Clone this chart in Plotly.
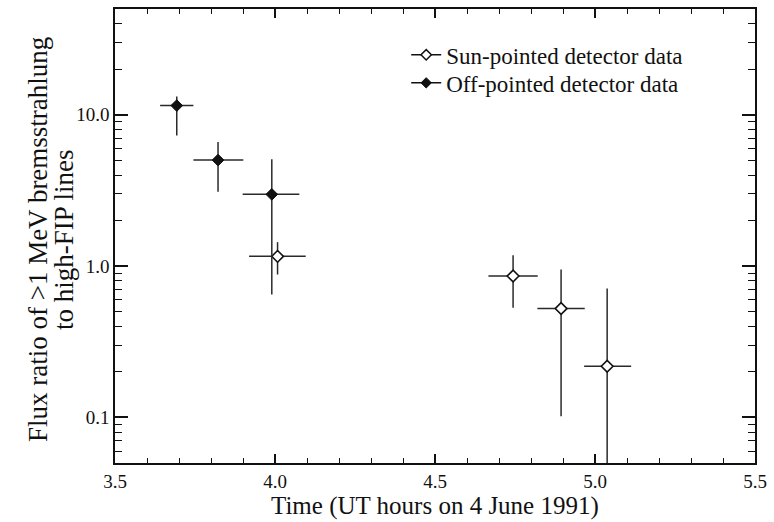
import plotly.graph_objects as go

# Off-pointed detector data (filled diamonds)
off_t = [3.693, 3.822, 3.99]
off_t_lo = [3.641, 3.745, 3.899]
off_t_hi = [3.745, 3.901, 4.076]
off_r = [11.5, 5.02, 2.98]
off_r_lo = [7.3, 3.1, 0.65]
off_r_hi = [13.2, 6.6, 5.08]

# Sun-pointed detector data (open diamonds)
sun_t = [4.008, 4.744, 4.894, 5.038]
sun_t_lo = [3.919, 4.667, 4.820, 4.966]
sun_t_hi = [4.096, 4.821, 4.968, 5.113]
sun_r = [1.16, 0.86, 0.524, 0.218]
sun_r_lo = [0.88, 0.53, 0.102, 0.02]
sun_r_hi = [1.44, 1.18, 0.95, 0.71]

y_tickvals = [0.1, 1.0, 10.0]
y_ticktext = ["0.1", "1.0", "10.0"]
x_range = [3.5, 5.5]
x_title = "Time (UT hours on 4 June 1991)"
y_title_lines = ["Flux ratio of >1 MeV bremsstrahlung", "to high-FIP lines"]

FONT = "Liberation Serif, Times New Roman, serif"
INK = "#111111"


def err(vals, lo, hi):
    plus = [h - v for v, h in zip(vals, hi)]
    minus = [v - l for v, l in zip(vals, lo)]
    return plus, minus


fig = go.Figure()

sx_p, sx_m = err(sun_t, sun_t_lo, sun_t_hi)
sy_p, sy_m = err(sun_r, sun_r_lo, sun_r_hi)
ox_p, ox_m = err(off_t, off_t_lo, off_t_hi)
oy_p, oy_m = err(off_r, off_r_lo, off_r_hi)

errstyle = dict(type="data", symmetric=False, width=0, thickness=1.5, color="#2a2a2a")

fig.add_trace(go.Scatter(
    x=sun_t, y=sun_r, mode="markers", showlegend=False,
    marker=dict(symbol="diamond", size=9, color="white", line=dict(color=INK, width=1.6)),
    error_x=dict(array=sx_p, arrayminus=sx_m, **errstyle),
    error_y=dict(array=sy_p, arrayminus=sy_m, **errstyle),
))
fig.add_trace(go.Scatter(
    x=off_t, y=off_r, mode="markers", showlegend=False,
    marker=dict(symbol="diamond", size=9, color=INK, line=dict(color=INK, width=1)),
    error_x=dict(array=ox_p, arrayminus=ox_m, **errstyle),
    error_y=dict(array=oy_p, arrayminus=oy_m, **errstyle),
))
# legend entries (one legend box each for exact placement)
fig.add_trace(go.Scatter(
    x=[None], y=[None], mode="lines+markers", name="Sun-pointed detector data", legend="legend",
    line=dict(color=INK, width=1.5),
    marker=dict(symbol="diamond", size=8, color="white", line=dict(color=INK, width=1.5)),
))
fig.add_trace(go.Scatter(
    x=[None], y=[None], mode="lines+markers", name="Off-pointed detector data", legend="legend2",
    line=dict(color=INK, width=1.5),
    marker=dict(symbol="diamond", size=8, color=INK, line=dict(color=INK, width=1)),
))

axis_common = dict(
    showline=True, linecolor=INK, linewidth=1.5, mirror="allticks", automargin=False,
    ticks="inside", tickcolor=INK, tickwidth=1.5, showgrid=False, zeroline=False,
    tickfont=dict(family=FONT, size=19, color=INK),
)

fig.update_xaxes(
    range=x_range, dtick=0.5, tick0=3.5, tickformat=".1f", ticklen=9,
    minor=dict(dtick=0.1, ticks="inside", ticklen=5, tickcolor=INK, tickwidth=1.2, showgrid=False),
    **axis_common,
)

minor_y = [m * d for d in (0.01, 0.1, 1, 10) for m in range(2, 10)]
fig.update_yaxes(
    type="log", range=[-1.30103, 1.69897], tickvals=y_tickvals, ticktext=y_ticktext, ticklen=13,
    minor=dict(tickvals=minor_y, ticks="inside", ticklen=7, tickcolor=INK, tickwidth=1.2, showgrid=False),
    **axis_common,
)

for line_text, px in zip(y_title_lines, [38, 64]):
    fig.add_annotation(
        text=line_text, xref="paper", yref="paper", x=0, y=0.491,
        xshift=px - 115, xanchor="center", yanchor="middle", textangle=-90,
        showarrow=False, font=dict(family=FONT, size=27, color=INK),
    )

fig.add_annotation(
    text=x_title, xref="paper", yref="paper", x=0.5, y=0, yshift=-43,
    xanchor="center", yanchor="middle", showarrow=False,
    font=dict(family=FONT, size=25, color=INK),
)

legend_common = dict(x=0.455, xanchor="left", yanchor="middle",
                     font=dict(family=FONT, size=23, color=INK),
                     bgcolor="rgba(0,0,0,0)", itemwidth=30)

fig.update_layout(
    width=774, height=522,
    margin=dict(l=115, r=19, t=9, b=59, autoexpand=False),
    plot_bgcolor="white", paper_bgcolor="white",
    legend=dict(y=0.899, **legend_common),
    legend2=dict(y=0.8372, **legend_common),
    font=dict(family=FONT, color=INK),
)

fig.write_html("out.html")
